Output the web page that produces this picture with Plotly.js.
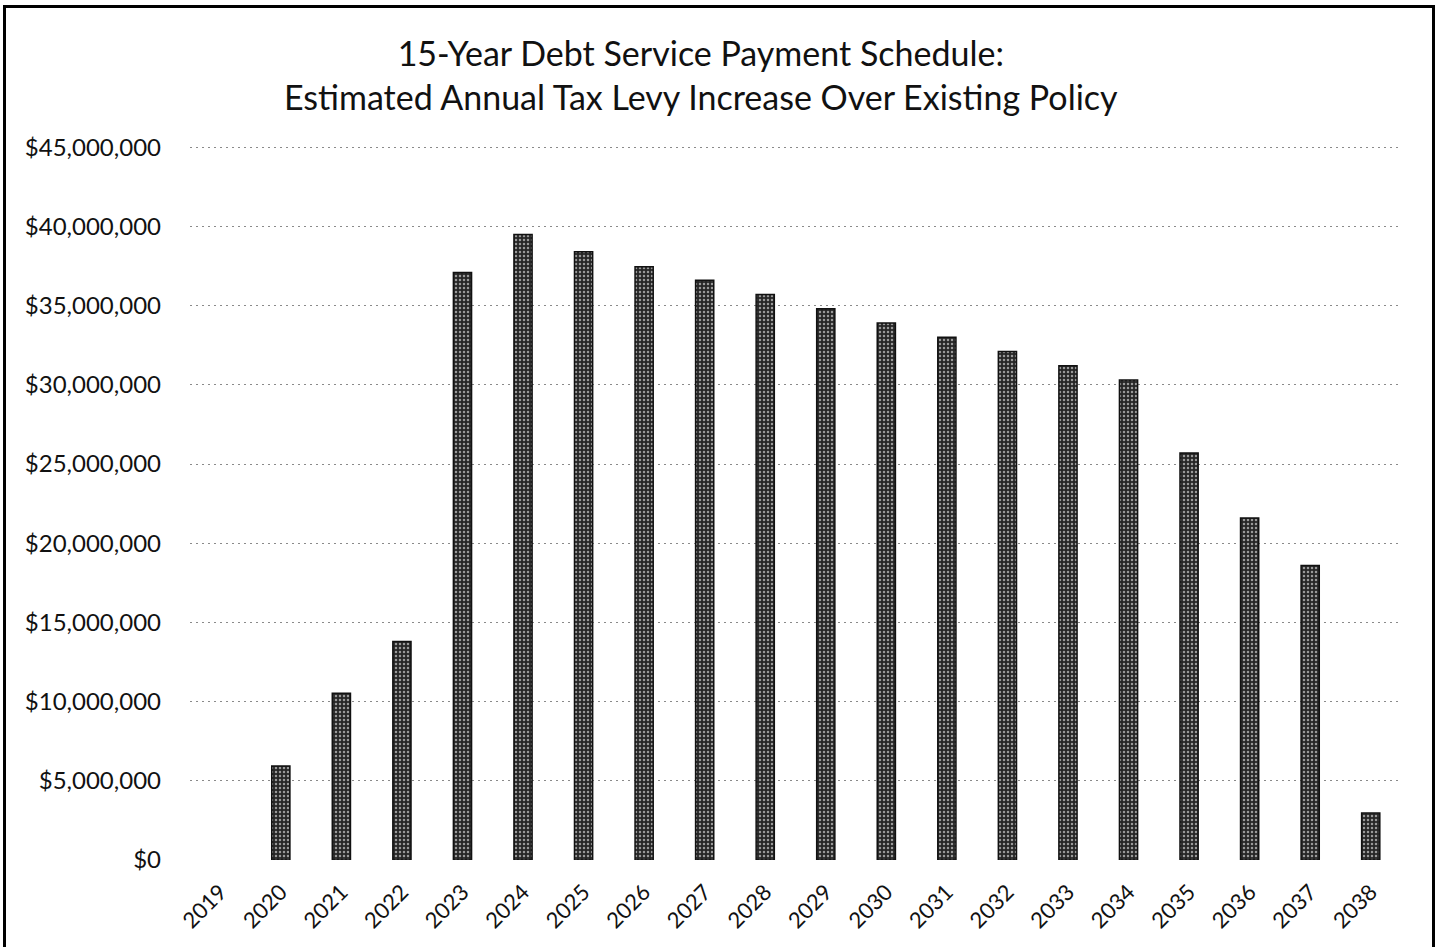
<!DOCTYPE html>
<html>
<head>
<meta charset="utf-8">
<script src="https://cdn.plot.ly/plotly-3.0.1.min.js"></script>
<style>
  html, body { margin: 0; padding: 0; background: #fff; }
  #chart { position: absolute; left: 0; top: 0; width: 1436px; height: 947px; }
  #frame { position: absolute; left: 3px; top: 5px; width: 1426px; height: 960px; border: 3px solid #000; pointer-events: none; }
</style>
</head>
<body>
<div id="chart"></div>
<div id="frame"></div>
<script>
const years = ['2019','2020','2021','2022','2023','2024','2025','2026','2027','2028','2029','2030','2031','2032','2033','2034','2035','2036','2037','2038'];
const levyIncrease = [0, 5930000, 10530000, 13800000, 37100000, 39500000, 38400000, 37450000, 36600000, 35700000, 34800000, 33900000, 33000000, 32100000, 31200000, 30300000, 25700000, 21600000, 18600000, 2960000];
const yTickVals = [0, 5000000, 10000000, 15000000, 20000000, 25000000, 30000000, 35000000, 40000000, 45000000];
const yTickText = ['$0','$5,000,000','$10,000,000','$15,000,000','$20,000,000','$25,000,000','$30,000,000','$35,000,000','$40,000,000','$45,000,000'];

const font = "Lato, Open Sans, sans-serif";

Plotly.newPlot('chart', [{
  type: 'bar',
  x: years,
  y: levyIncrease,
  marker: {
    color: '#262626',
    line: { color: '#111', width: levyIncrease.map(v => v > 0 ? 1.5 : 0) },
    pattern: { shape: '.', fgcolor: '#9a9a9a', bgcolor: '#262626', size: 4, solidity: 0.3 }
  },
  hoverinfo: 'x+y'
}], {
  width: 1436,
  height: 947,
  margin: { l: 190, r: 35, t: 146, b: 87 },
  paper_bgcolor: '#fff',
  plot_bgcolor: '#fff',
  bargap: 0.7,
  showlegend: false,
  title: {
    text: '15-Year Debt Service Payment Schedule:<br>Estimated Annual Tax Levy Increase Over Existing Policy',
    font: { family: font, size: 34, color: '#111' },
    x: 0.488, xanchor: 'center',
    yref: 'container',
    y: 0.930, yanchor: 'middle'
  },
  xaxis: {
    type: 'category',
    tickangle: -45,
    tickfont: { family: font, size: 22, color: '#111' },
    ticklabelstandoff: 14,
    showgrid: false,
    showline: false,
    zeroline: false,
    ticks: ''
  },
  yaxis: {
    range: [0, 45080000],
    tickvals: yTickVals,
    ticktext: yTickText,
    tickfont: { family: font, size: 24, color: '#111' },
    ticklabelstandoff: 28,
    showgrid: true,
    gridcolor: '#8a8a8a',
    griddash: '2px,4px',
    gridwidth: 1,
    zeroline: false,
    showline: false,
    ticks: ''
  }
}, { displayModeBar: false, staticPlot: true });
</script>
</body>
</html>
